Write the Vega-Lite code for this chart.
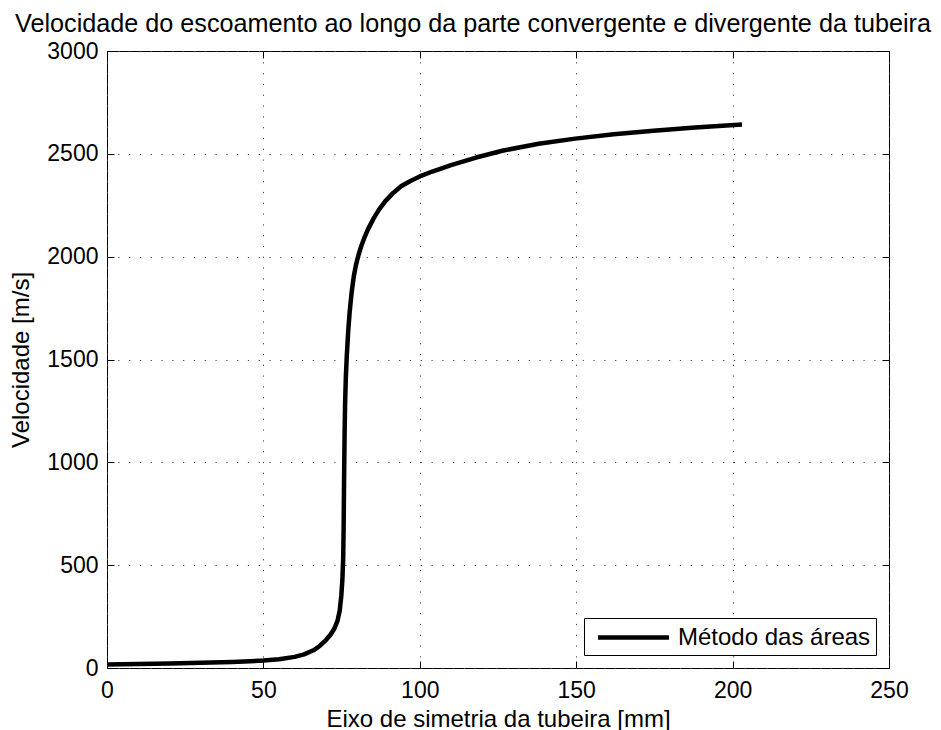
{
  "$schema": "https://vega.github.io/schema/vega-lite/v6.json",
  "width": 782,
  "height": 617,
  "autosize": "none",
  "padding": {"left": 107, "top": 51, "right": 52, "bottom": 62},
  "background": "white",
  "config": {
    "font": "Liberation Sans",
    "view": {"stroke": "black", "strokeWidth": 1},
    "axis": {
      "labelFont": "Liberation Sans",
      "titleFont": "Liberation Sans",
      "labelFontSize": 23,
      "titleFontSize": 24,
      "labelColor": "black",
      "titleColor": "black",
      "titleFontWeight": "normal",
      "domain": false,
      "ticks": true,
      "tickColor": "black",
      "tickWidth": 1,
      "tickSize": -7,
      "gridColor": "#444",
      "gridDash": [1.2, 9.6],
      "gridWidth": 1
    }
  },
  "title": {
    "text": "Velocidade do escoamento ao longo da parte convergente e divergente da tubeira",
    "font": "Liberation Sans",
    "fontSize": 25.2,
    "fontWeight": "normal",
    "color": "black",
    "anchor": "middle",
    "dx": -25,
    "offset": 3
  },
  "data": {
    "values": [
      {"x": 0, "v": 17, "serie": "Método das áreas"},
      {"x": 10, "v": 19, "serie": "Método das áreas"},
      {"x": 20, "v": 22, "serie": "Método das áreas"},
      {"x": 30, "v": 25, "serie": "Método das áreas"},
      {"x": 40, "v": 29, "serie": "Método das áreas"},
      {"x": 50, "v": 36, "serie": "Método das áreas"},
      {"x": 55, "v": 43, "serie": "Método das áreas"},
      {"x": 60, "v": 54, "serie": "Método das áreas"},
      {"x": 63, "v": 66, "serie": "Método das áreas"},
      {"x": 66, "v": 86, "serie": "Método das áreas"},
      {"x": 68, "v": 107, "serie": "Método das áreas"},
      {"x": 70, "v": 136, "serie": "Método das áreas"},
      {"x": 71.5, "v": 163, "serie": "Método das áreas"},
      {"x": 72.7, "v": 192, "serie": "Método das áreas"},
      {"x": 73.7, "v": 230, "serie": "Método das áreas"},
      {"x": 74.4, "v": 280, "serie": "Método das áreas"},
      {"x": 74.9, "v": 350, "serie": "Método das áreas"},
      {"x": 75.25, "v": 430, "serie": "Método das áreas"},
      {"x": 75.5, "v": 530, "serie": "Método das áreas"},
      {"x": 75.65, "v": 680, "serie": "Método das áreas"},
      {"x": 75.75, "v": 850, "serie": "Método das áreas"},
      {"x": 75.85, "v": 1000, "serie": "Método das áreas"},
      {"x": 75.97, "v": 1150, "serie": "Método das áreas"},
      {"x": 76.12, "v": 1290, "serie": "Método das áreas"},
      {"x": 76.35, "v": 1410, "serie": "Método das áreas"},
      {"x": 76.65, "v": 1515, "serie": "Método das áreas"},
      {"x": 77.1, "v": 1635, "serie": "Método das áreas"},
      {"x": 77.6, "v": 1735, "serie": "Método das áreas"},
      {"x": 78.2, "v": 1825, "serie": "Método das áreas"},
      {"x": 78.9, "v": 1905, "serie": "Método das áreas"},
      {"x": 79.6, "v": 1960, "serie": "Método das áreas"},
      {"x": 80.4, "v": 2008, "serie": "Método das áreas"},
      {"x": 81.3, "v": 2052, "serie": "Método das áreas"},
      {"x": 82.3, "v": 2093, "serie": "Método das áreas"},
      {"x": 83.5, "v": 2135, "serie": "Método das áreas"},
      {"x": 85.2, "v": 2185, "serie": "Método das áreas"},
      {"x": 87, "v": 2230, "serie": "Método das áreas"},
      {"x": 89, "v": 2270, "serie": "Método das áreas"},
      {"x": 91.5, "v": 2310, "serie": "Método das áreas"},
      {"x": 94, "v": 2342, "serie": "Método das áreas"},
      {"x": 97, "v": 2368, "serie": "Método das áreas"},
      {"x": 100, "v": 2390, "serie": "Método das áreas"},
      {"x": 104, "v": 2414, "serie": "Método das áreas"},
      {"x": 110, "v": 2445, "serie": "Método das áreas"},
      {"x": 118, "v": 2482, "serie": "Método das áreas"},
      {"x": 126.7, "v": 2516, "serie": "Método das áreas"},
      {"x": 138, "v": 2549, "serie": "Método das áreas"},
      {"x": 149.7, "v": 2574, "serie": "Método das áreas"},
      {"x": 162, "v": 2595, "serie": "Método das áreas"},
      {"x": 174.7, "v": 2612, "serie": "Método das áreas"},
      {"x": 188, "v": 2628, "serie": "Método das áreas"},
      {"x": 203, "v": 2643, "serie": "Método das áreas"}
    ]
  },
  "layer": [
    {
      "mark": {"type": "line", "strokeWidth": 4.5, "interpolate": "linear", "strokeJoin": "round"},
      "encoding": {
        "x": {
          "field": "x", "type": "quantitative",
          "scale": {"domain": [0, 250], "nice": false, "zero": false},
          "axis": {"orient": "bottom", "title": "Eixo de simetria da tubeira [mm]", "values": [0, 50, 100, 150, 200, 250], "format": "d", "labelPadding": 18, "titlePadding": 5, "labelFlush": false}
        },
        "y": {
          "field": "v", "type": "quantitative",
          "scale": {"domain": [0, 3000], "nice": false},
          "axis": {"orient": "left", "title": "Velocidade [m/s]", "values": [0, 500, 1000, 1500, 2000, 2500, 3000], "format": "d", "labelPadding": 16, "titlePadding": 13, "labelFlush": false}
        },
        "color": {
          "field": "serie", "type": "nominal",
          "scale": {"range": ["black"]},
          "legend": {
            "title": null,
            "orient": "bottom-right",
            "offset": 13,
            "symbolType": "M-3,0H3",
            "symbolSize": 560,
            "symbolStrokeWidth": 4.5,
            "labelFontSize": 24,
            "labelFont": "Liberation Sans",
            "labelColor": "black",
            "labelLimit": 400,
            "strokeColor": "black",
            "fillColor": "white",
            "padding": 5,
            "symbolOffset": 30,
            "labelOffset": 30
          }
        }
      }
    },
    {
      "mark": {"type": "line", "strokeOpacity": 0},
      "encoding": {
        "x": {
          "field": "x", "type": "quantitative",
          "axis": {"orient": "top", "title": null, "labels": false, "grid": false, "values": [0, 50, 100, 150, 200, 250]}
        },
        "y": {
          "field": "v", "type": "quantitative",
          "axis": {"orient": "right", "title": null, "labels": false, "grid": false, "values": [0, 500, 1000, 1500, 2000, 2500, 3000]}
        }
      }
    }
  ]
}
